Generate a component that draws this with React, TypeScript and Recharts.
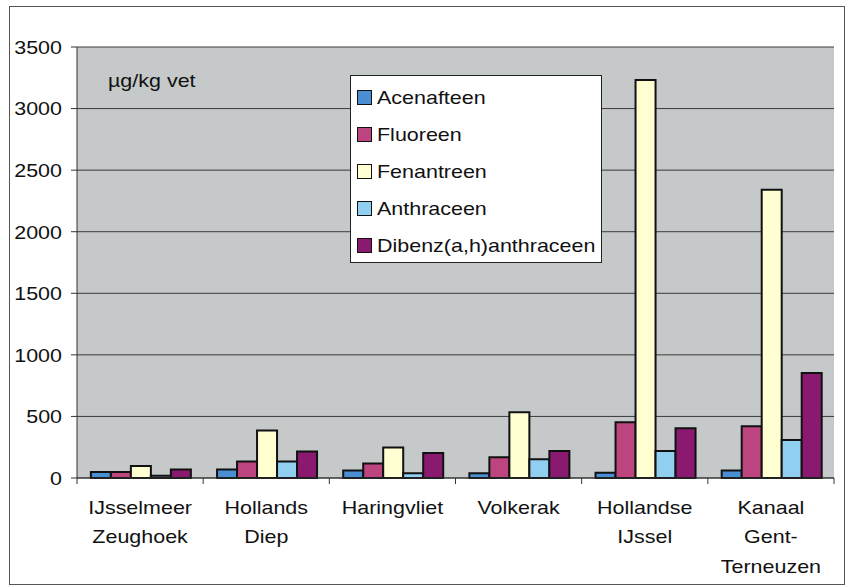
import { Bar, BarChart, CartesianGrid, XAxis, YAxis } from "recharts";

const locations = [
  "IJsselmeer\nZeughoek",
  "Hollands\nDiep",
  "Haringvliet",
  "Volkerak",
  "Hollandse\nIJssel",
  "Kanaal\nGent-\nTerneuzen",
];
const acenafteen = [48, 70, 60, 38, 43, 60];
const fluoreen = [48, 135, 117, 168, 452, 420];
const fenantreen = [97, 385, 247, 533, 3233, 2340];
const anthraceen = [19, 135, 38, 152, 219, 309];
const dibenz = [70, 215, 203, 219, 403, 853];
const yTicks = [0, 500, 1000, 1500, 2000, 2500, 3000, 3500];

const series = [
  { key: "acenafteen", name: "Acenafteen", color: "#4a8fd4" },
  { key: "fluoreen", name: "Fluoreen", color: "#bc4580" },
  { key: "fenantreen", name: "Fenantreen", color: "#ffffd2" },
  { key: "anthraceen", name: "Anthraceen", color: "#90cff0" },
  { key: "dibenz", name: "Dibenz(a,h)anthraceen", color: "#8a1a70" },
];

const data = locations.map((loc, i) => ({
  loc,
  acenafteen: acenafteen[i],
  fluoreen: fluoreen[i],
  fenantreen: fenantreen[i],
  anthraceen: anthraceen[i],
  dibenz: dibenz[i],
}));

const PLOT_LEFT = 77;
const PLOT_RIGHT = 834;
const PLOT_TOP = 47;
const PLOT_BOTTOM = 478;
const HALF_BAND = (PLOT_RIGHT - PLOT_LEFT) / locations.length / 2;
const FONT = "'Liberation Sans', Arial, sans-serif";
const STRETCH = 1.13;

const CategoryTick = (props: any) => {
  const { x, y, payload, index } = props;
  const lines = String(payload.value).split("\n");
  const top = PLOT_BOTTOM;
  return (
    <g>
      <line x1={x - HALF_BAND} x2={x - HALF_BAND} y1={top} y2={top + 6} stroke="#333" />
      {index === locations.length - 1 && (
        <line x1={x + HALF_BAND} x2={x + HALF_BAND} y1={top} y2={top + 6} stroke="#333" />
      )}
      <text
        transform={`translate(${x},${top}) scale(${STRETCH},1)`}
        textAnchor="middle"
        fontFamily={FONT}
        fontSize={19}
        fill="#111"
      >
        {lines.map((l, k) => (
          <tspan key={k} x={0} y={36 + k * 29.5}>
            {l}
          </tspan>
        ))}
      </text>
    </g>
  );
};

const ValueTick = (props: any) => {
  const { y, payload } = props;
  return (
    <text
      transform={`translate(62,${y}) scale(${STRETCH},1)`}
      textAnchor="end"
      dy="0.36em"
      fontFamily={FONT}
      fontSize={19}
      fill="#111"
    >
      {payload.value}
    </text>
  );
};

const LegendBox = () => (
  <div
    style={{
      position: "absolute",
      left: 350,
      top: 75,
      background: "#fff",
      border: "1px solid #222",
      width: 252,
      height: 188,
      boxSizing: "border-box",
      fontFamily: FONT,
      fontSize: 19,
      color: "#111",
    }}
  >
    {series.map((s, i) => (
      <div
        key={s.key}
        style={{
          position: "absolute",
          left: 6,
          top: 13 + i * 37,
          display: "flex",
          alignItems: "center",
          height: 17,
        }}
      >
        <span
          style={{
            width: 15,
            height: 15,
            background: s.color,
            border: "1.5px solid #111",
            boxSizing: "border-box",
            marginRight: 5,
            display: "inline-block",
          }}
        />
        <span
          style={{
            display: "inline-block",
            transform: `scaleX(${STRETCH})`,
            transformOrigin: "left center",
            whiteSpace: "nowrap",
            lineHeight: "17px",
          }}
        >
          {s.name}
        </span>
      </div>
    ))}
  </div>
);

export default function App() {
  return (
    <div
      style={{
        position: "absolute",
        left: 0,
        top: 0,
        width: 848,
        height: 587,
        background: "#fff",
      }}
    >
      <div
        style={{
          position: "absolute",
          left: 9,
          top: 6,
          width: 836,
          height: 579,
          border: "1px solid #555",
          boxSizing: "border-box",
        }}
      />
      <div
        style={{
          position: "absolute",
          left: PLOT_LEFT,
          top: PLOT_TOP,
          width: PLOT_RIGHT - PLOT_LEFT,
          height: PLOT_BOTTOM - PLOT_TOP,
          background: "#c5c9c9",
        }}
      />
      <svg
        width={848}
        height={587}
        style={{ position: "absolute", left: 0, top: 0, pointerEvents: "none" }}
      />
      <div style={{ position: "absolute", left: 0, top: 0 }}>
        <BarChart
          width={848}
          height={587}
          data={data}
          margin={{ top: PLOT_TOP, right: 848 - PLOT_RIGHT, left: 0, bottom: 0 }}
          barCategoryGap="11%"
          barGap={0}
        >
          <CartesianGrid vertical={false} stroke="#3a3a3a" strokeWidth={1} />
          <XAxis
            dataKey="loc"
            height={587 - PLOT_BOTTOM}
            interval={0}
            tickLine={false}
            axisLine={{ stroke: "#333" }}
            tick={<CategoryTick />}
          />
          <YAxis
            width={PLOT_LEFT}
            domain={[0, 3500]}
            ticks={yTicks}
            interval={0}
            tickSize={6}
            axisLine={{ stroke: "#333" }}
            tickLine={{ stroke: "#333" }}
            tick={<ValueTick />}
          />
          {series.map((s) => (
            <Bar
              key={s.key}
              dataKey={s.key}
              name={s.name}
              fill={s.color}
              stroke="#111"
              strokeWidth={2}
              isAnimationActive={false}
            />
          ))}
        </BarChart>
      </div>
      <svg width={848} height={587} style={{ position: "absolute", left: 0, top: 0 }}>
        <text
          transform={`translate(108,87) scale(${STRETCH},1)`}
          fontFamily={FONT}
          fontSize={19}
          fill="#111"
        >
          µg/kg vet
        </text>
      </svg>
      <LegendBox />
    </div>
  );
}
